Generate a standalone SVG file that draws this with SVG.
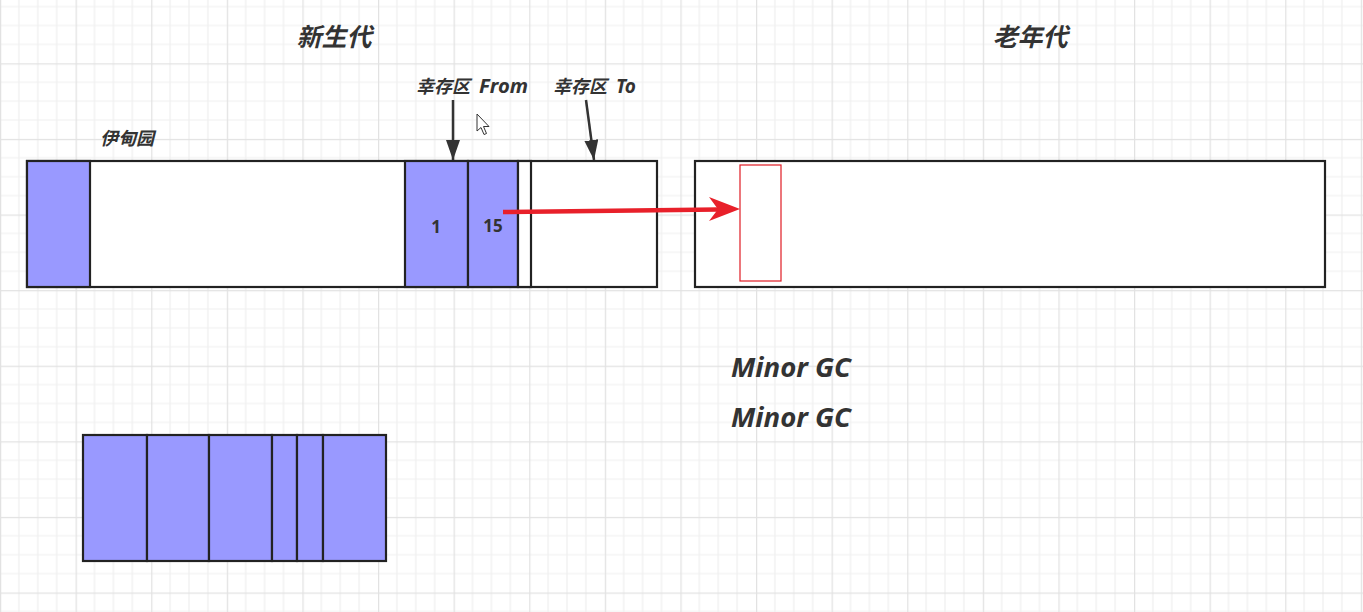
<svg xmlns="http://www.w3.org/2000/svg" width="1363" height="612" viewBox="0 0 1363 612">
<style>
.cn{font-family:"Noto Sans CJK SC","Noto Sans",sans-serif;font-weight:bold;font-style:italic;fill:#333}
.lt{font-family:"Noto Sans","Open Sans","Noto Sans CJK SC",sans-serif;font-weight:bold;font-style:italic;fill:#333}
.num{font-family:"Noto Sans","Open Sans",sans-serif;font-weight:bold;fill:#333}
.blk{fill:#9999ff;stroke:#222;stroke-width:2.2}
.wht{fill:#fff;stroke:#222;stroke-width:2.2}
.conn{stroke:#333;stroke-width:2.5;fill:none}
</style>
<defs>
<pattern id="grid" patternUnits="userSpaceOnUse" x="0" y="63.3" width="75.6" height="75.6">
<path d="M18.9 0V75.6M37.8 0V75.6M56.7 0V75.6M0 18.9H75.6M0 37.8H75.6M0 56.7H75.6" stroke="#efefef" stroke-width="1.2" fill="none"/>
<path d="M0.6 0V75.6M0 0.6H75.6" stroke="#e2e2e2" stroke-width="1.3" fill="none"/>
</pattern>
<marker id="ah" viewBox="0 0 10 10" refX="10" refY="5" markerWidth="20" markerHeight="14" markerUnits="userSpaceOnUse" orient="auto" preserveAspectRatio="none">
<path d="M0 0L10 5L0 10z" fill="#333"/>
</marker>
</defs>
<rect width="1363" height="612" fill="#fff"/>
<rect width="1363" height="612" fill="url(#grid)"/>

<g id="title-young"><text class="cn" x="334" y="46" font-size="25" text-anchor="middle">新生代</text></g>
<g id="title-old"><text class="cn" x="1030" y="46" font-size="25" text-anchor="middle">老年代</text></g>
<g id="label-from"><text class="cn" x="416" y="93" font-size="18">幸存区 <tspan class="lt" x="479" font-size="19" textLength="49" lengthAdjust="spacingAndGlyphs">From</tspan></text></g>
<g id="label-to"><text class="cn" x="553" y="93" font-size="18">幸存区 <tspan class="lt" x="616" font-size="19">To</tspan></text></g>
<g id="label-eden"><text class="cn" x="100" y="145" font-size="18">伊甸园</text></g>

<g id="young-gen">
<rect class="wht" x="27" y="161" width="630" height="126"/>
<rect class="blk" x="27" y="161" width="63" height="126"/>
<rect class="blk" x="405" y="161" width="63" height="126"/>
<rect class="blk" x="468" y="161" width="50" height="126"/>
<rect class="wht" x="518" y="161" width="13" height="126"/>
<text class="num" x="436" y="233" font-size="17" text-anchor="middle">1</text>
<text class="num" x="493" y="232" font-size="17" text-anchor="middle">15</text>
</g>

<g id="old-gen">
<rect class="wht" x="695" y="161" width="630" height="126"/>
<rect x="740" y="165" width="41" height="116" fill="#fff" stroke="#e01b24" stroke-width="1.2"/>
</g>

<g id="minor-gc">
<text class="lt" x="731" y="377" font-size="26" textLength="120" lengthAdjust="spacingAndGlyphs">Minor GC</text>
<text class="lt" x="731" y="427" font-size="26" textLength="120" lengthAdjust="spacingAndGlyphs">Minor GC</text>
</g>

<g id="blocks">
<rect class="blk" x="83" y="435" width="64" height="126"/>
<rect class="blk" x="147" y="435" width="62" height="126"/>
<rect class="blk" x="209" y="435" width="63" height="126"/>
<rect class="blk" x="272" y="435" width="25" height="126"/>
<rect class="blk" x="297" y="435" width="26" height="126"/>
<rect class="blk" x="323" y="435" width="63" height="126"/>
</g>

<g id="connectors">
<line class="conn" x1="453" y1="100" x2="453" y2="160" marker-end="url(#ah)"/>
<line class="conn" x1="586" y1="100" x2="594" y2="160" marker-end="url(#ah)"/>
<line x1="503" y1="212" x2="718" y2="209.5" stroke="#e8202a" stroke-width="4.5"/>
<path d="M740 209 L709 197 L718 209.3 L709 221 Z" fill="#e8202a"/>
</g>

<g id="cursor">
<path d="M477 114 L477 131 L481 127.5 L484 134.5 L486.5 133.5 L483.5 126.5 L489 126.5 Z" fill="#fff" stroke="#333" stroke-width="1"/>
</g>
</svg>
